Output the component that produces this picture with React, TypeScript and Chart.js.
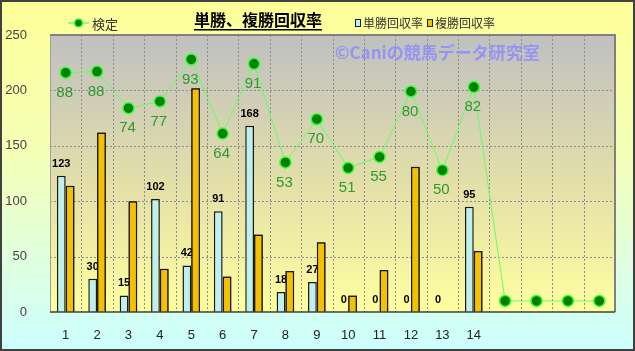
import React, { useEffect, useRef } from "react";
import { Chart, registerables } from "chart.js";

Chart.register(...registerables);

const categories = ["1","2","3","4","5","6","7","8","9","10","11","12","13","14","","","",""];
const tanshoValues = [123, 30, 15, 102, 42, 91, 168, 18, 27, 0, 0, 0, 0, 95];
const fukushoValues = [114, 162, 100, 39, 202, 32, 70, 37, 63, 15, 38, 131, 0, 55];
const kenteiPositions = [216, 217, 184, 190, 228, 161, 224, 135, 174, 130, 140, 199, 128, 203, 10, 10, 10, 10];
const kenteiLabels = ["88","88","74","77","93","64","91","53","70","51","55","80","50","82"];
const yTicks = [0, 50, 100, 150, 200, 250];

const FONT = "'Liberation Sans', Arial, sans-serif";
const JFONT = "'Noto Sans CJK JP', 'Liberation Sans', sans-serif";

const decorPlugin = {
  id: "decor",
  beforeDraw(chart: any) {
    const { ctx, width, height, chartArea } = chart;
    ctx.save();
    const g = ctx.createLinearGradient(0, 0, 0, height);
    g.addColorStop(0, "#FFFF99");
    g.addColorStop(0.45, "#F4FFB8");
    g.addColorStop(1, "#CCFFFF");
    ctx.fillStyle = g;
    ctx.fillRect(0, 0, width, height);
    ctx.strokeStyle = "#404040";
    ctx.lineWidth = 2;
    ctx.strokeRect(1, 1, width - 2, height - 2);
    const pg = ctx.createLinearGradient(0, chartArea.top, 0, chartArea.bottom);
    pg.addColorStop(0, "#C0C0C0");
    pg.addColorStop(0.55, "#E4E0A8");
    pg.addColorStop(1, "#FFFFA0");
    ctx.fillStyle = pg;
    ctx.fillRect(chartArea.left, chartArea.top, chartArea.right - chartArea.left, chartArea.bottom - chartArea.top);
    ctx.restore();
  },
  beforeDatasetsDraw(chart: any) {
    const { ctx, chartArea, scales } = chart;
    ctx.save();
    ctx.strokeStyle = "#8C8C8C";
    ctx.lineWidth = 1;
    ctx.setLineDash([2, 2]);
    const x = scales.x;
    const n = categories.length;
    const step = (chartArea.right - chartArea.left) / n;
    for (let i = 1; i < n; i++) {
      const px = Math.round(x.getPixelForValue(i) - step / 2) + 0.5;
      ctx.beginPath();
      ctx.moveTo(px, chartArea.top);
      ctx.lineTo(px, chartArea.bottom);
      ctx.stroke();
    }
    yTicks.forEach((v) => {
      if (v === 0 || v === 250) return;
      const py = Math.round(scales.y.getPixelForValue(v)) + 0.5;
      ctx.beginPath();
      ctx.moveTo(chartArea.left, py);
      ctx.lineTo(chartArea.right, py);
      ctx.stroke();
    });
    ctx.setLineDash([]);
    ctx.strokeStyle = "#A0A0A0";
    ctx.beginPath();
    ctx.moveTo(chartArea.left + 0.5, chartArea.top);
    ctx.lineTo(chartArea.left + 0.5, chartArea.bottom);
    ctx.stroke();
    ctx.restore();
  },
  afterDatasetDraw(chart: any, args: any) {
    if (args.index !== 0) return;
    const { ctx } = chart;
    const meta0 = chart.getDatasetMeta(0);
    ctx.save();
    ctx.fillStyle = "#000";
    ctx.font = "bold 11px " + FONT;
    ctx.textAlign = "center";
    ctx.textBaseline = "middle";
    tanshoValues.forEach((v, i) => {
      const el = meta0.data[i];
      if (!el) return;
      ctx.fillText(String(v), el.x, el.y - 12);
    });
    ctx.restore();
    // gold bars sit in front of the labels
    chart.getDatasetMeta(1).controller.draw();
  },
  afterDatasetsDraw(chart: any) {
    const { ctx, chartArea } = chart;
    ctx.save();
    // plot border
    ctx.strokeStyle = "#808080";
    ctx.lineWidth = 2;
    ctx.beginPath();
    ctx.moveTo(chartArea.left, chartArea.top);
    ctx.lineTo(chartArea.right, chartArea.top);
    ctx.lineTo(chartArea.right, chartArea.bottom);
    ctx.stroke();
    ctx.strokeStyle = "#404040";
    ctx.lineWidth = 1.5;
    ctx.beginPath();
    ctx.moveTo(chartArea.left, chartArea.bottom);
    ctx.lineTo(chartArea.right, chartArea.bottom);
    ctx.stroke();

    ctx.textAlign = "center";
    ctx.textBaseline = "middle";

    // line labels
    const meta2 = chart.getDatasetMeta(2);
    ctx.fillStyle = "#2E9A2E";
    ctx.font = "15px " + FONT;
    kenteiLabels.forEach((t, i) => {
      const el = meta2.data[i];
      if (!el) return;
      ctx.fillText(t, el.x - 1, el.y + 20);
    });

    // watermark
    ctx.fillStyle = "rgba(140,140,255,0.85)";
    ctx.font = "bold 17px " + JFONT;
    ctx.textAlign = "left";
    ctx.fillText("©Caniの競馬データ研究室", 335, 53);

    // title
    ctx.fillStyle = "#000";
    ctx.font = "bold 16px " + JFONT;
    ctx.textAlign = "center";
    ctx.fillText("単勝、複勝回収率", 258, 20);
    const tw = ctx.measureText("単勝、複勝回収率").width;
    ctx.fillRect(258 - tw / 2, 29, tw, 1.5);

    // legend: 検定
    ctx.strokeStyle = "#66FF66";
    ctx.lineWidth = 1.5;
    ctx.beginPath();
    ctx.moveTo(68, 23);
    ctx.lineTo(89, 23);
    ctx.stroke();
    ctx.fillStyle = "#008000";
    ctx.strokeStyle = "#33FF33";
    ctx.beginPath();
    ctx.arc(78.5, 23, 4, 0, Math.PI * 2);
    ctx.fill();
    ctx.stroke();
    ctx.fillStyle = "#333";
    ctx.font = "13px " + JFONT;
    ctx.textAlign = "left";
    ctx.fillText("検定", 92, 24);

    // legend: bars
    const drawBox = (x: number, fill: string) => {
      ctx.fillStyle = fill;
      ctx.fillRect(x, 19, 5, 7);
      ctx.strokeStyle = "#222";
      ctx.lineWidth = 1;
      ctx.strokeRect(x + 0.5, 19.5, 5, 7);
    };
    drawBox(355, "#BFF0F0");
    drawBox(427, "#F5C000");
    ctx.fillStyle = "#333";
    ctx.font = "12px " + JFONT;
    ctx.fillText("単勝回収率", 363, 23);
    ctx.fillText("複勝回収率", 435, 23);
    ctx.restore();
  },
};

export default function App() {
  const ref = useRef<HTMLCanvasElement | null>(null);
  useEffect(() => {
    document.body.style.margin = "0";
    const canvas = ref.current!;
    const chart = new Chart(canvas, {
      type: "bar",
      data: {
        labels: categories,
        datasets: [
          {
            type: "bar",
            label: "単勝回収率",
            data: tanshoValues,
            backgroundColor: "#BFF0F0",
            borderColor: "#1A1A1A",
            borderWidth: 1.5,
            barPercentage: 1,
            categoryPercentage: 0.56,
            order: 2,
          },
          {
            type: "bar",
            label: "複勝回収率",
            data: fukushoValues,
            backgroundColor: "#F5C000",
            borderColor: "#1A1A1A",
            borderWidth: 1.5,
            barPercentage: 1,
            categoryPercentage: 0.56,
            order: 2,
          },
          {
            type: "line",
            label: "検定",
            data: kenteiPositions,
            borderColor: "#66FF66",
            borderWidth: 1,
            pointRadius: 5.5,
            pointBackgroundColor: "#008000",
            pointBorderColor: "#33FF33",
            pointBorderWidth: 1.5,
            order: 1,
          } as any,
        ],
      },
      options: {
        animation: false,
        responsive: false,
        layout: { padding: { left: 0, right: 20, top: 35, bottom: 0 } },
        plugins: { legend: { display: false }, title: { display: false }, tooltip: { enabled: false } },
        scales: {
          x: {
            offset: true,
            grid: { display: false },
            border: { display: false },
            ticks: { color: "#222", font: { size: 13, family: FONT }, padding: 8 },
            afterFit: (s: any) => { s.height = 39; },
          },
          y: {
            min: 0,
            max: 250,
            afterBuildTicks: (s: any) => { s.ticks = yTicks.map((v) => ({ value: v })); },
            grid: { display: false },
            border: { display: false },
            ticks: { color: "#444", font: { size: 13, family: FONT }, padding: 15 },
            afterFit: (s: any) => { s.width = 50; },
          },
        },
      },
      plugins: [decorPlugin],
    });
    return () => chart.destroy();
  }, []);
  return <canvas ref={ref} width={635} height={351} style={{ display: "block" }} />;
}
